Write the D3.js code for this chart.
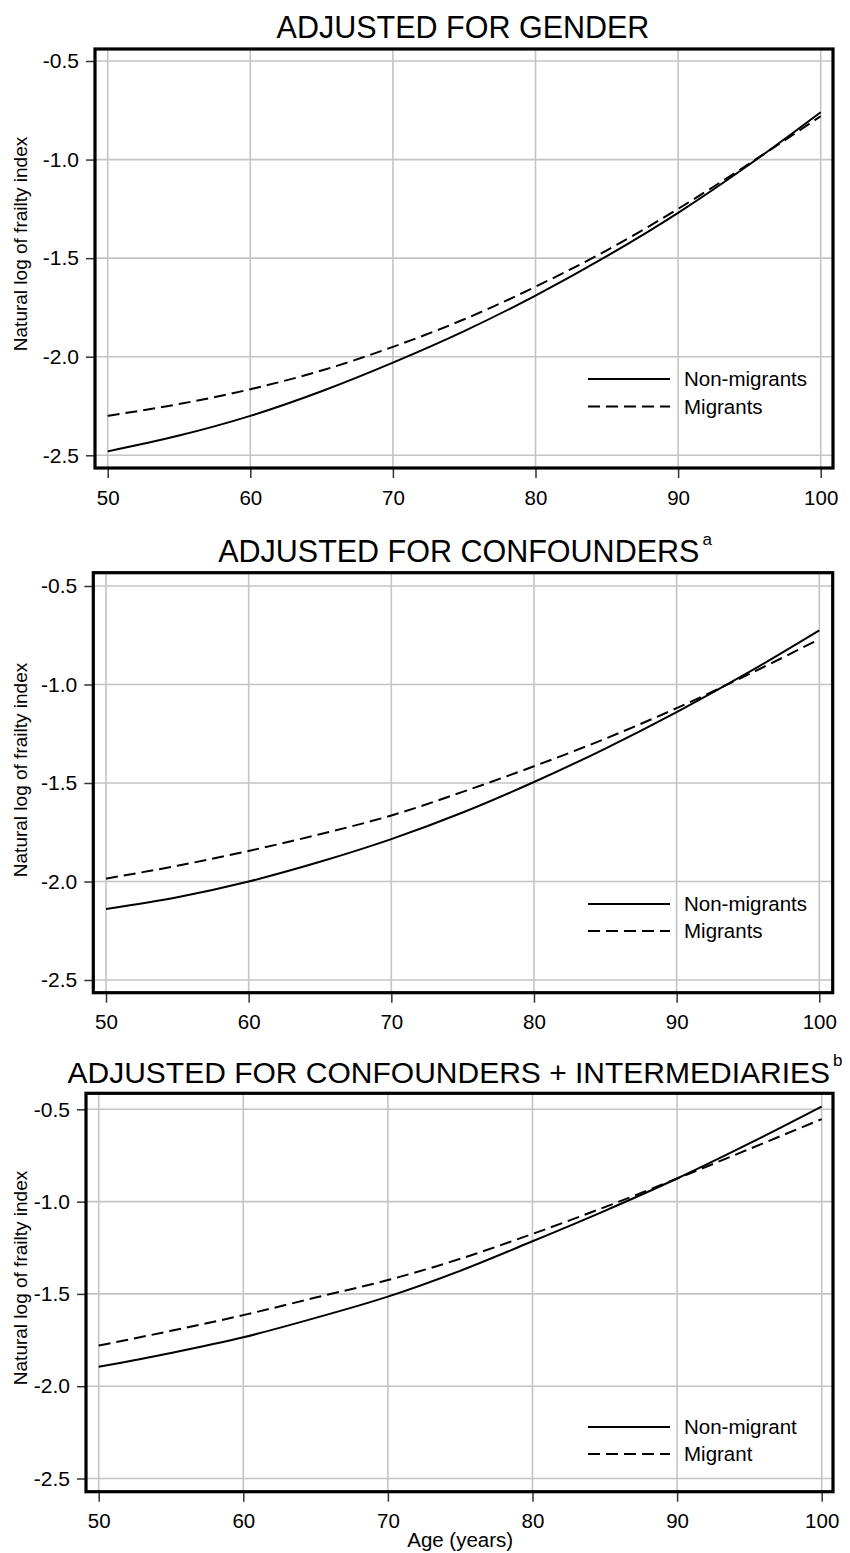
<!DOCTYPE html>
<html>
<head>
<meta charset="utf-8">
<script src="https://cdn.jsdelivr.net/npm/d3@7"></script>
<style>
  html, body { margin: 0; padding: 0; background: #fff; }
  svg { display: block; }
  text { font-family: "Liberation Sans", Arial, Helvetica, sans-serif; fill: #000; }
</style>
</head>
<body>
<script>
// ---------- DATA ----------
const ages = [50, 55, 60, 65, 70, 75, 80, 85, 90, 95, 100];
const xTicks = [50, 60, 70, 80, 90, 100];
const yTicks = [-0.5, -1.0, -1.5, -2.0, -2.5];

const titles = ["ADJUSTED FOR GENDER", "ADJUSTED FOR CONFOUNDERS", "ADJUSTED FOR CONFOUNDERS + INTERMEDIARIES"];
const titleSups = ["", "a", "b"];
const legendSolid = ["Non-migrants", "Non-migrants", "Non-migrant"];
const legendDashed = ["Migrants", "Migrants", "Migrant"];
const yLabel = "Natural log of frailty index";
const xLabel = "Age (years)";

const gender_nonMigrants = [-2.48, -2.40, -2.30, -2.175, -2.03, -1.87, -1.69, -1.49, -1.27, -1.025, -0.76];
const gender_migrants    = [-2.30, -2.24, -2.165, -2.07, -1.95, -1.81, -1.645, -1.46, -1.25, -1.02, -0.78];
const conf_nonMigrants   = [-2.14, -2.08, -2.00, -1.90, -1.785, -1.65, -1.495, -1.325, -1.14, -0.94, -0.725];
const conf_migrants      = [-1.985, -1.92, -1.845, -1.76, -1.665, -1.545, -1.415, -1.275, -1.12, -0.95, -0.77];
const inter_nonMigrants  = [-1.895, -1.82, -1.735, -1.63, -1.515, -1.375, -1.215, -1.05, -0.875, -0.685, -0.485];
const inter_migrants     = [-1.78, -1.70, -1.615, -1.52, -1.425, -1.31, -1.175, -1.03, -0.875, -0.715, -0.553];

const solidSeries = [gender_nonMigrants, conf_nonMigrants, inter_nonMigrants];
const dashedSeries = [gender_migrants, conf_migrants, inter_migrants];

// ---------- LAYOUT (pixel positions only) ----------
const W = 850, H = 1553;
const panels = [
  { x0: 107.7, x1: 820.7, yTop: 61, yBot: 455.3, fL: 95, fR: 833, fT: 49, fB: 468,
    titleX: 463, titleY: 38, titleSize: 30.5, labX: 20, labY: 244, legY: [379, 406.5], xLab: false },
  { x0: 106, x1: 819.3, yTop: 586, yBot: 980, fL: 93.3, fR: 832.7, fT: 572.7, fB: 992.7,
    titleX: 465, titleY: 562, titleSize: 30.5, labX: 20, labY: 770, legY: [904, 931], xLab: false },
  { x0: 98.7, x1: 821.7, yTop: 1109.3, yBot: 1478.5, fL: 86, fR: 833, fT: 1093.3, fB: 1491.7,
    titleX: 455, titleY: 1083, titleSize: 30, labX: 20, labY: 1278, legY: [1427, 1454], xLab: true }
];

const svg = d3.select("body").append("svg").attr("width", W).attr("height", H);

panels.forEach((p, i) => {
  const x = d3.scaleLinear().domain([50, 100]).range([p.x0, p.x1]);
  const y = d3.scaleLinear().domain([-0.5, -2.5]).range([p.yTop, p.yBot]);
  const g = svg.append("g");

  // grid lines
  g.selectAll(".vg").data(xTicks).enter().append("line")
    .attr("x1", d => x(d)).attr("x2", d => x(d))
    .attr("y1", p.fT).attr("y2", p.fB)
    .attr("stroke", "#c4c4c4").attr("stroke-width", 1.6);
  g.selectAll(".hg").data(yTicks).enter().append("line")
    .attr("x1", p.fL).attr("x2", p.fR)
    .attr("y1", d => y(d)).attr("y2", d => y(d))
    .attr("stroke", "#c4c4c4").attr("stroke-width", 1.6);

  // axes (ticks + labels)
  const yAxis = d3.axisLeft(y).tickValues(yTicks).tickSize(8).tickPadding(7)
    .tickFormat(d => d.toFixed(1).replace("\u2212", "-"));
  const ya = g.append("g").attr("transform", `translate(${p.fL - 1},0)`).call(yAxis);
  ya.select(".domain").remove();
  ya.selectAll("line").attr("stroke", "#333").attr("stroke-width", 1.5);
  ya.selectAll("text").attr("font-size", 21).attr("font-family", "Liberation Sans, Arial, sans-serif").attr("fill", "#000");

  const xAxis = d3.axisBottom(x).tickValues(xTicks).tickSize(9).tickPadding(12)
    .tickFormat(d3.format("d"));
  const xa = g.append("g").attr("transform", `translate(0,${p.fB + 1})`).call(xAxis);
  xa.select(".domain").remove();
  xa.selectAll("line").attr("stroke", "#333").attr("stroke-width", 1.5);
  xa.selectAll("text").attr("font-size", 20.5).attr("font-family", "Liberation Sans, Arial, sans-serif").attr("fill", "#000");

  // frame
  g.append("rect").attr("x", p.fL).attr("y", p.fT)
    .attr("width", p.fR - p.fL).attr("height", p.fB - p.fT)
    .attr("fill", "none").attr("stroke", "#000").attr("stroke-width", 3.2);

  // lines
  const line = d3.line().x((d, j) => x(ages[j])).y(d => y(d)).curve(d3.curveMonotoneX);
  g.append("path").datum(solidSeries[i]).attr("d", line)
    .attr("fill", "none").attr("stroke", "#000").attr("stroke-width", 2);
  g.append("path").datum(dashedSeries[i]).attr("d", line)
    .attr("fill", "none").attr("stroke", "#000").attr("stroke-width", 2)
    .attr("stroke-dasharray", "12,6");

  // legend
  const lx0 = 588, lx1 = 670, tx = 684;
  g.append("line").attr("x1", lx0).attr("x2", lx1).attr("y1", p.legY[0]).attr("y2", p.legY[0])
    .attr("stroke", "#000").attr("stroke-width", 2);
  g.append("line").attr("x1", lx0).attr("x2", lx1).attr("y1", p.legY[1]).attr("y2", p.legY[1])
    .attr("stroke", "#000").attr("stroke-width", 2).attr("stroke-dasharray", "12,6");
  g.append("text").attr("x", tx).attr("y", p.legY[0] + 7).attr("font-size", 20.5).text(legendSolid[i]);
  g.append("text").attr("x", tx).attr("y", p.legY[1] + 7).attr("font-size", 20.5).text(legendDashed[i]);

  // title
  const t = g.append("text").attr("x", p.titleX).attr("y", p.titleY)
    .attr("text-anchor", "middle").attr("font-size", p.titleSize);
  t.append("tspan").text(titles[i]);
  if (titleSups[i]) {
    t.append("tspan").attr("dx", 3).attr("dy", -17).attr("font-size", 17).text(titleSups[i]);
  }

  // y label
  g.append("text").attr("transform", `translate(${p.labX + 7},${p.labY}) rotate(-90)`)
    .attr("text-anchor", "middle").attr("font-size", 19).text(yLabel);

  if (p.xLab) {
    g.append("text").attr("x", (p.x0 + p.x1) / 2).attr("y", 1547)
      .attr("text-anchor", "middle").attr("font-size", 20.5).text(xLabel);
  }
});
</script>
</body>
</html>
